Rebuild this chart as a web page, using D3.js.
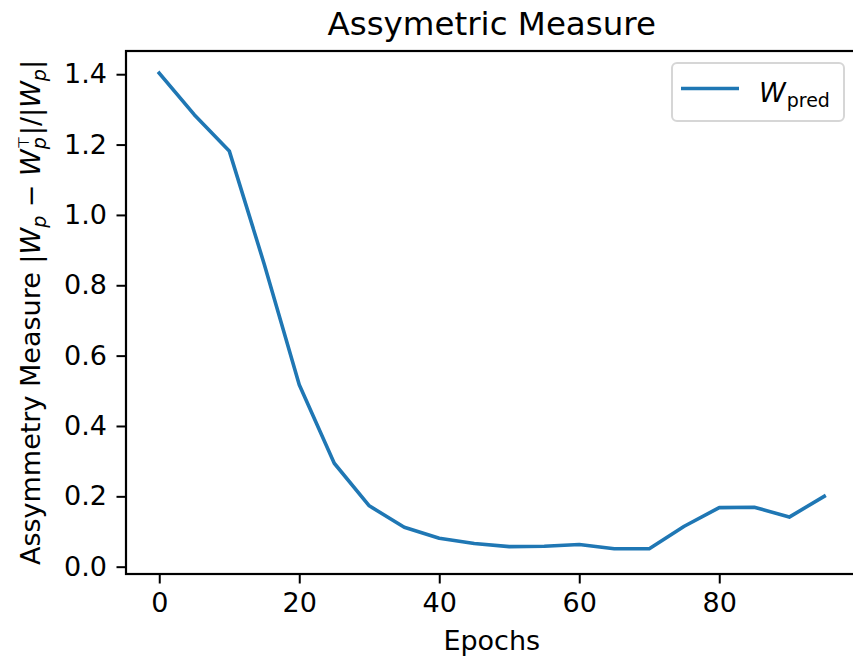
<!DOCTYPE html>
<html>
<head>
<meta charset="utf-8">
<script src="https://cdn.jsdelivr.net/npm/d3@7"></script>
<style>
  body { margin: 0; background: white; }
  text { font-family: "DejaVu Sans", sans-serif; fill: black; }
</style>
</head>
<body>
<div id="chart"></div>
<script>
// Data
const epochs = [0, 5, 10, 15, 20, 25, 30, 35, 40, 45, 50, 55, 60, 65, 70, 75, 80, 85, 90, 95];
const asymmetry = [1.403, 1.285, 1.182, 0.86, 0.517, 0.294, 0.173, 0.112, 0.081, 0.066,
                   0.057, 0.058, 0.063, 0.051, 0.051, 0.115, 0.168, 0.169, 0.141, 0.2];
const xTicks = [0, 20, 40, 60, 80];
const yTicks = [0.0, 0.2, 0.4, 0.6, 0.8, 1.0, 1.2, 1.4];

const data = epochs.map((e, i) => ({epoch: e, value: asymmetry[i]}));

const width = 853, height = 657;
const plot = {left: 126, right: 857.5, top: 51, bottom: 574};

const svg = d3.select('#chart')
    .append('svg')
    .attr('width', width)
    .attr('height', height)
    .style('background', 'white');

// Scales (matplotlib style 5% margins)
const xScale = d3.scaleLinear()
    .domain([-4.75, 99.75])
    .range([plot.left, plot.right]);

const yScale = d3.scaleLinear()
    .domain([-0.0208, 1.466])
    .range([plot.bottom, plot.top]);

// Axes
const xAxis = svg.append('g')
    .attr('transform', `translate(0,${plot.bottom})`)
    .call(d3.axisBottom(xScale).tickValues(xTicks).tickSize(9.5).tickPadding(9.5).tickFormat(d3.format('d')));

const yAxis = svg.append('g')
    .attr('transform', `translate(${plot.left},0)`)
    .call(d3.axisLeft(yScale).tickValues(yTicks).tickSize(9.5).tickPadding(9.5).tickFormat(d3.format('.1f')));

[xAxis, yAxis].forEach(ax => {
    ax.select('.domain').remove();
    ax.selectAll('line').attr('stroke', 'black').attr('stroke-width', 2);
    ax.selectAll('text').style('font-size', '27px').style('font-family', '"DejaVu Sans"');
});

// Line
const line = d3.line()
    .x(d => xScale(d.epoch))
    .y(d => yScale(d.value));

svg.append('path')
    .datum(data)
    .attr('d', line)
    .attr('fill', 'none')
    .attr('stroke', '#1f77b4')
    .attr('stroke-width', 3.6)
    .attr('stroke-linejoin', 'round')
    .attr('stroke-linecap', 'square');

// Frame
svg.append('rect')
    .attr('x', plot.left)
    .attr('y', plot.top)
    .attr('width', plot.right - plot.left)
    .attr('height', plot.bottom - plot.top)
    .attr('fill', 'none')
    .attr('stroke', 'black')
    .attr('stroke-width', 2.2);

// Title
svg.append('text')
    .attr('x', (plot.left + plot.right) / 2)
    .attr('y', 35)
    .style('text-anchor', 'middle')
    .style('font-size', '32.5px')
    .text('Assymetric Measure');

// x-axis label
svg.append('text')
    .attr('x', (plot.left + plot.right) / 2)
    .attr('y', 650)
    .style('text-anchor', 'middle')
    .style('font-size', '27px')
    .text('Epochs');

// y-axis label with math parts
const ylab = svg.append('text')
    .attr('transform', `translate(40,${(plot.top + plot.bottom) / 2}) rotate(-90)`)
    .style('text-anchor', 'middle')
    .style('font-size', '27px');

ylab.append('tspan').text('Assymmetry Measure |');
ylab.append('tspan').style('font-style', 'italic').text('W');
ylab.append('tspan').style('font-style', 'italic').style('font-size', '19px').attr('dy', 6).text('p');
ylab.append('tspan').attr('dy', -6).text(' \u2212 ');
ylab.append('tspan').style('font-style', 'italic').text('W');
ylab.append('tspan').style('font-style', 'italic').style('font-size', '19px').attr('dy', 6).text('p');
ylab.append('tspan').style('font-size', '15px').attr('dx', -12).attr('dy', -17).text('\u22A4');
ylab.append('tspan').attr('dy', 11).attr('dx', 1).text('|/|');
ylab.append('tspan').style('font-style', 'italic').text('W');
ylab.append('tspan').style('font-style', 'italic').style('font-size', '19px').attr('dy', 6).text('p');
ylab.append('tspan').attr('dy', -6).text('|');

// Legend
const legend = svg.append('g');

legend.append('rect')
    .attr('x', 672)
    .attr('y', 63)
    .attr('width', 172)
    .attr('height', 58)
    .attr('rx', 5)
    .attr('fill', 'white')
    .attr('fill-opacity', 0.8)
    .attr('stroke', '#d6d6d6')
    .attr('stroke-width', 2);

legend.append('line')
    .attr('x1', 681)
    .attr('x2', 739)
    .attr('y1', 88.5)
    .attr('y2', 88.5)
    .attr('stroke', '#1f77b4')
    .attr('stroke-width', 3.6);

const legText = legend.append('text')
    .attr('x', 759)
    .attr('y', 102)
    .style('font-size', '27px');

legText.append('tspan').style('font-style', 'italic').text('W');
legText.append('tspan').style('font-size', '19px').attr('dy', 5).attr('dx', 1).text('pred');
</script>
</body>
</html>
